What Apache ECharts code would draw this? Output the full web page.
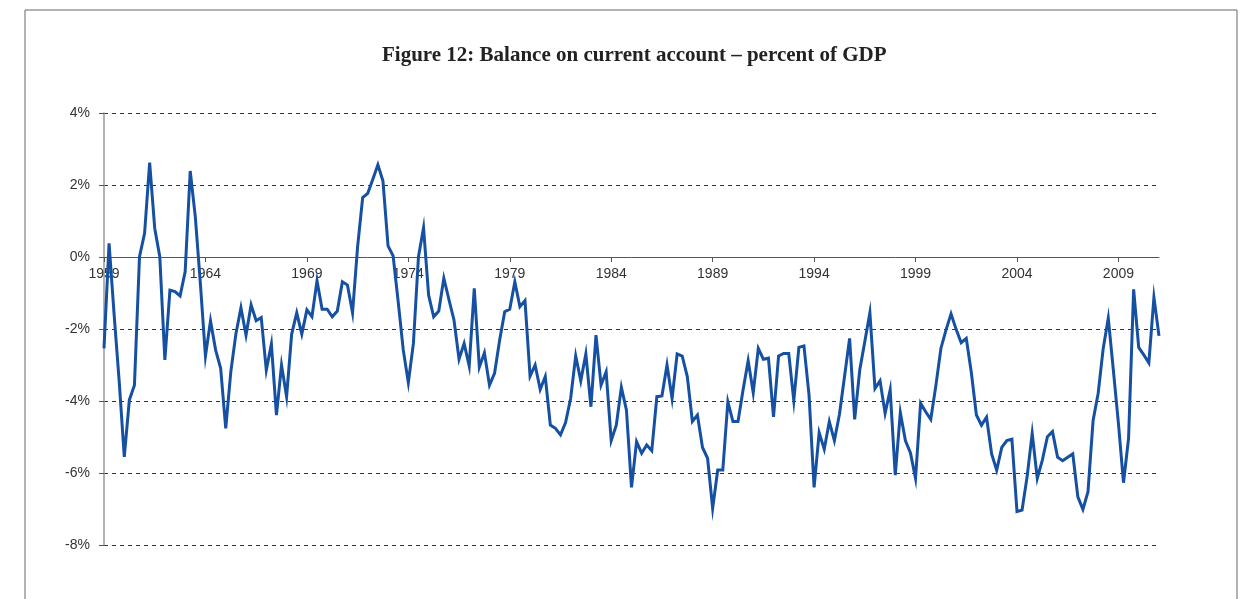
<!DOCTYPE html>
<html>
<head>
<meta charset="utf-8">
<script src="https://cdn.jsdelivr.net/npm/echarts@6/dist/echarts.min.js"></script>
<style>
html,body{margin:0;padding:0;background:#fff;}
#chart{width:1243px;height:599px;}
</style>
</head>
<body>
<div id="chart"></div>
<script>
// Quarterly data, 1959Q1 .. 2011Q1
const startYear = 1959;
const quarterLabels = ['Q1','Q2','Q3','Q4'];
const balance = [
-2.54,0.38,-1.61,-3.46,-5.55,-3.97,-3.56,0.01,0.66,2.62,
0.80,0.01,-2.86,-0.92,-0.96,-1.08,-0.41,2.39,1.12,-0.73,
-2.75,-1.77,-2.58,-3.09,-4.76,-3.19,-2.14,-1.41,-2.17,-1.33,
-1.77,-1.68,-3.14,-2.42,-4.39,-3.00,-3.88,-2.14,-1.55,-2.14,
-1.47,-1.66,-0.66,-1.45,-1.45,-1.66,-1.50,-0.69,-0.78,-1.55,
0.29,1.65,1.77,2.16,2.56,2.11,0.31,0.03,-1.24,-2.58,
-3.49,-2.40,0.01,0.81,-1.06,-1.66,-1.50,-0.59,-1.18,-1.75,
-2.84,-2.40,-3.03,-0.87,-3.06,-2.66,-3.56,-3.23,-2.31,-1.52,
-1.45,-0.69,-1.38,-1.21,-3.31,-3.00,-3.68,-3.32,-4.67,-4.76,
-4.94,-4.60,-3.93,-2.75,-3.44,-2.69,-4.16,-2.17,-3.56,-3.19,
-5.10,-4.67,-3.62,-4.25,-6.40,-5.13,-5.45,-5.22,-5.38,-3.88,
-3.86,-3.00,-3.93,-2.69,-2.75,-3.32,-4.57,-4.39,-5.29,-5.59,
-6.98,-5.92,-5.92,-4.02,-4.57,-4.57,-3.69,-2.88,-3.77,-2.54,
-2.84,-2.81,-4.44,-2.75,-2.68,-2.68,-3.99,-2.51,-2.47,-3.83,
-6.40,-4.88,-5.34,-4.57,-5.10,-4.37,-3.32,-2.26,-4.51,-3.14,
-2.35,-1.55,-3.65,-3.44,-4.34,-3.69,-6.06,-4.32,-5.10,-5.44,
-6.15,-4.06,-4.30,-4.51,-3.58,-2.54,-2.03,-1.58,-2.01,-2.38,
-2.26,-3.21,-4.39,-4.67,-4.45,-5.47,-5.92,-5.29,-5.10,-5.06,
-7.07,-7.03,-6.10,-4.90,-6.15,-5.64,-4.99,-4.85,-5.56,-5.66,
-5.56,-5.47,-6.66,-7.01,-6.52,-4.55,-3.79,-2.54,-1.70,-3.14,
-4.62,-6.27,-5.04,-0.90,-2.51,-2.72,-2.94,-1.12,-2.19
];
const yTicks = {min:-8, max:4, step:2};
const titleText = 'Figure 12: Balance on current account \u2013 percent of GDP';

const categories = balance.map((v,i)=> (startYear + Math.floor(i/4)) + quarterLabels[i%4]);

const gridTop = 113, gridBottom = 54, chartH = 599;
const plotH = chartH - gridTop - gridBottom;
// shift the x axis from the bottom edge up to the zero line
const zeroOffset = -plotH * (0 - yTicks.min) / (yTicks.max - yTicks.min);

const chart = echarts.init(document.getElementById('chart'), null, {renderer:'canvas'});
chart.setOption({
  animation:false,
  backgroundColor:'#fff',
  title:{
    text:titleText,
    left:377,
    top:40,
    textStyle:{fontFamily:'Liberation Serif',fontWeight:'bold',fontSize:21,color:'#222'}
  },
  graphic:[{
    type:'rect',
    shape:{x:25,y:10,width:1212,height:620},
    style:{fill:'none',stroke:'#666',lineWidth:1},
    silent:true
  }],
  grid:{left:104,right:84,top:gridTop,bottom:gridBottom},
  xAxis:{
    type:'category',
    data:categories,
    boundaryGap:false,
    offset:zeroOffset,
    axisLine:{onZero:false,lineStyle:{color:'#555',width:1}},
    axisTick:{show:true,interval:19,length:5,inside:false,lineStyle:{color:'#555'}},
    axisLabel:{
      interval:19,
      margin:10,
      color:'#333',
      fontFamily:'Liberation Sans',
      fontSize:14,
      formatter:function(v){return v.slice(0,4);}
    },
    splitLine:{show:false}
  },
  yAxis:{
    type:'value',
    min:yTicks.min,
    max:yTicks.max,
    interval:yTicks.step,
    axisLine:{show:true,lineStyle:{color:'#999',width:1.5}},
    axisTick:{show:true,length:5,lineStyle:{color:'#555'}},
    axisLabel:{
      margin:14,
      color:'#333',
      fontFamily:'Liberation Sans',
      fontSize:14,
      formatter:'{value}%'
    },
    splitLine:{show:true,lineStyle:{color:'#333',width:1,type:[4,4]}}
  },
  series:[{
    type:'line',
    data:balance,
    showSymbol:false,
    symbol:'none',
    lineStyle:{color:'#1550a2',width:3,join:'miter'},
    z:5
  }]
});
</script>
</body>
</html>
